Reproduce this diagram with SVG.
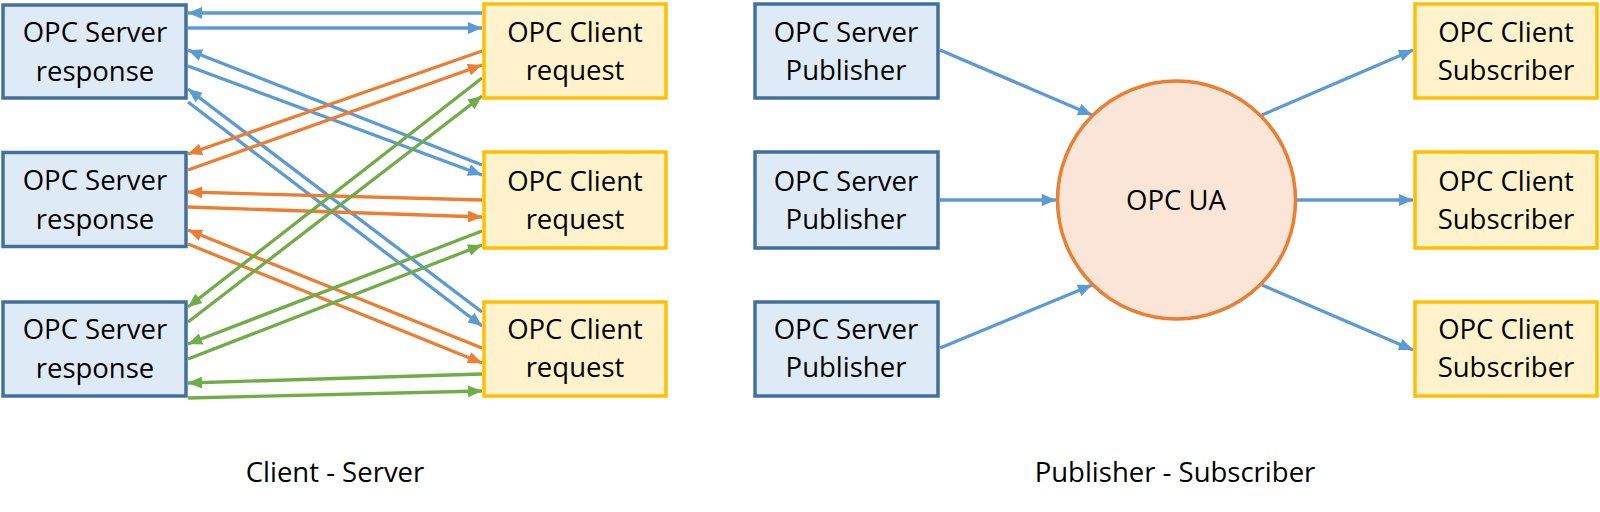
<svg xmlns="http://www.w3.org/2000/svg" width="1600" height="512" viewBox="0 0 1600 512">
<style>
.srv{fill:#DEEBF7;stroke:#41719C;stroke-width:3.5}
.cli{fill:#FFF2CC;stroke:#FFC000;stroke-width:3.5}
.hub{fill:#FBE5D6;stroke:#ED7D31;stroke-width:3.5}
text{font-family:"Open Sans","Liberation Sans",sans-serif;font-size:27.5px;fill:#000;text-anchor:middle}
.b{stroke:#5B9BD5;stroke-width:3.3;fill:none;marker-end:url(#ab)}
.o{stroke:#ED7D31;stroke-width:3.3;fill:none;marker-end:url(#ao)}
.g{stroke:#70AD47;stroke-width:3.3;fill:none;marker-end:url(#ag)}
</style>
<defs>
<marker id="ab" markerUnits="userSpaceOnUse" markerWidth="14" markerHeight="12" refX="14" refY="6" orient="auto"><path d="M0,0 L14,6 L0,12 z" fill="#5B9BD5"/></marker>
<marker id="ao" markerUnits="userSpaceOnUse" markerWidth="14" markerHeight="12" refX="14" refY="6" orient="auto"><path d="M0,0 L14,6 L0,12 z" fill="#ED7D31"/></marker>
<marker id="ag" markerUnits="userSpaceOnUse" markerWidth="14" markerHeight="12" refX="14" refY="6" orient="auto"><path d="M0,0 L14,6 L0,12 z" fill="#70AD47"/></marker>
</defs>
<rect width="1600" height="512" fill="#fff"/>
<g id="connectors">
<line class="b" x1="482" y1="13" x2="188" y2="13"/>
<line class="b" x1="188" y1="28" x2="482" y2="28"/>
<line class="b" x1="482" y1="165" x2="188" y2="50"/>
<line class="b" x1="188" y1="66" x2="482" y2="175"/>
<line class="b" x1="482" y1="312" x2="188" y2="89"/>
<line class="b" x1="188" y1="102" x2="482" y2="326"/>
<line class="o" x1="482" y1="51" x2="188" y2="154"/>
<line class="o" x1="188" y1="170" x2="482" y2="65"/>
<line class="o" x1="482" y1="200" x2="188" y2="192"/>
<line class="o" x1="188" y1="207" x2="482" y2="217"/>
<line class="o" x1="482" y1="348" x2="188" y2="230"/>
<line class="o" x1="188" y1="244" x2="482" y2="363"/>
<line class="g" x1="482" y1="78" x2="188" y2="307"/>
<line class="g" x1="188" y1="322" x2="482" y2="96"/>
<line class="g" x1="482" y1="231" x2="188" y2="344"/>
<line class="g" x1="188" y1="359" x2="482" y2="245"/>
<line class="g" x1="482" y1="374" x2="188" y2="383"/>
<line class="g" x1="188" y1="398" x2="482" y2="391"/>
<line class="b" x1="940" y1="50" x2="1092" y2="115"/>
<line class="b" x1="940" y1="200" x2="1056" y2="200"/>
<line class="b" x1="940" y1="348" x2="1092" y2="285"/>
<line class="b" x1="1262" y1="115" x2="1413" y2="50"/>
<line class="b" x1="1297" y1="200" x2="1413" y2="200"/>
<line class="b" x1="1262" y1="285" x2="1413" y2="350"/>
</g>
<g id="server1"><rect class="srv" x="3" y="5" width="183" height="93"/><text x="95" y="42">OPC Server</text><text x="95" y="81">response</text></g>
<g id="server2"><rect class="srv" x="3" y="152.5" width="183" height="94"/><text x="95" y="190">OPC Server</text><text x="95" y="229">response</text></g>
<g id="server3"><rect class="srv" x="3" y="302" width="183" height="94"/><text x="95" y="339">OPC Server</text><text x="95" y="378">response</text></g>
<g id="client1"><rect class="cli" x="484" y="4" width="182" height="94"/><text x="575" y="42">OPC Client</text><text x="575" y="80">request</text></g>
<g id="client2"><rect class="cli" x="484" y="152" width="182" height="96"/><text x="575" y="191">OPC Client</text><text x="575" y="229">request</text></g>
<g id="client3"><rect class="cli" x="484" y="302" width="182" height="94"/><text x="575" y="339">OPC Client</text><text x="575" y="377">request</text></g>
<g id="pub1"><rect class="srv" x="755" y="4" width="183" height="94"/><text x="846" y="42">OPC Server</text><text x="846" y="80">Publisher</text></g>
<g id="pub2"><rect class="srv" x="755" y="152" width="183" height="96"/><text x="846" y="191">OPC Server</text><text x="846" y="229">Publisher</text></g>
<g id="pub3"><rect class="srv" x="755" y="302" width="183" height="94"/><text x="846" y="339">OPC Server</text><text x="846" y="377">Publisher</text></g>
<g id="opcua"><circle class="hub" cx="1176.5" cy="200" r="119"/><text x="1176" y="210">OPC UA</text></g>
<g id="sub1"><rect class="cli" x="1415" y="4" width="182" height="94"/><text x="1506" y="42">OPC Client</text><text x="1506" y="80">Subscriber</text></g>
<g id="sub2"><rect class="cli" x="1415" y="152" width="182" height="96"/><text x="1506" y="191">OPC Client</text><text x="1506" y="229">Subscriber</text></g>
<g id="sub3"><rect class="cli" x="1415" y="302" width="182" height="94"/><text x="1506" y="339">OPC Client</text><text x="1506" y="377">Subscriber</text></g>
<g id="labels"><text x="335" y="482">Client - Server</text><text x="1175" y="482">Publisher - Subscriber</text></g>
</svg>
